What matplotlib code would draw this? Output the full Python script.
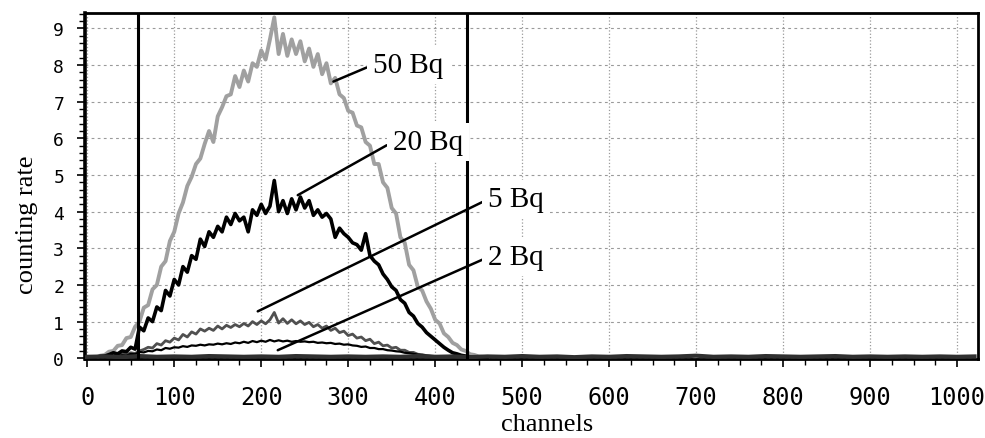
import numpy as np
import matplotlib
matplotlib.use('Agg')
import matplotlib.pyplot as plt
import matplotlib.ticker as mtick

# channel grid of the read-off values (every 5 channels up to 460)
channels = np.arange(0, 461, 5)

bq50 = [0.00, 0.03, 0.02, 0.07, 0.09, 0.18, 0.20, 0.34, 0.36, 0.55,
        0.58, 0.86, 1.00, 1.38, 1.45, 1.88, 2.00, 2.50, 2.65, 3.20,
        3.45, 3.95, 4.25, 4.70, 4.95, 5.30, 5.45, 5.85, 6.20, 5.90,
        6.60, 6.85, 7.15, 7.20, 7.70, 7.40, 7.85, 7.55, 8.05, 7.95,
        8.40, 8.15, 8.70, 9.30, 8.30, 8.85, 8.25, 8.70, 8.30, 8.65,
        8.10, 8.45, 7.95, 8.30, 7.75, 8.05, 7.50, 7.65, 7.20, 7.10,
        6.75, 6.70, 6.35, 6.30, 5.90, 5.80, 5.30, 5.30, 4.80, 4.65,
        4.10, 3.95, 3.30, 3.15, 2.55, 2.40, 1.95, 1.85, 1.55, 1.35,
        1.05, 0.95, 0.68, 0.58, 0.42, 0.36, 0.24, 0.20, 0.11, 0.09,
        0.05, 0.04, 0.03]

bq20 = [0.00, 0.02, 0.03, 0.05, 0.06, 0.10, 0.15, 0.12, 0.20, 0.18,
        0.30, 0.25, 0.85, 0.75, 1.10, 1.00, 1.40, 1.30, 1.85, 1.70,
        2.15, 2.00, 2.50, 2.35, 2.80, 2.70, 3.25, 3.05, 3.45, 3.30,
        3.60, 3.45, 3.85, 3.65, 3.95, 3.75, 3.85, 3.45, 4.05, 3.90,
        4.20, 3.95, 4.15, 4.85, 4.00, 4.30, 3.95, 4.35, 4.05, 4.40,
        4.10, 4.30, 3.90, 4.05, 3.85, 3.95, 3.80, 3.30, 3.55, 3.40,
        3.30, 3.15, 3.10, 2.95, 3.40, 2.80, 2.65, 2.55, 2.30, 2.15,
        1.95, 1.85, 1.60, 1.50, 1.25, 1.15, 0.95, 0.85, 0.70, 0.60,
        0.50, 0.40, 0.30, 0.22, 0.15, 0.12, 0.08, 0.06, 0.04, 0.03,
        0.02, 0.02, 0.02]

bq5 = [0.02, 0.04, 0.03, 0.06, 0.05, 0.08, 0.07, 0.10, 0.12, 0.10,
       0.15, 0.13, 0.20, 0.24, 0.30, 0.28, 0.40, 0.36, 0.48, 0.44,
       0.55, 0.50, 0.65, 0.58, 0.72, 0.66, 0.80, 0.74, 0.82, 0.76,
       0.88, 0.80, 0.90, 0.84, 0.92, 0.86, 0.95, 0.88, 1.00, 0.92,
       1.02, 0.94, 1.05, 1.25, 0.96, 1.08, 0.95, 1.05, 0.94, 1.02,
       0.92, 0.98, 0.86, 0.92, 0.82, 0.88, 0.76, 0.82, 0.70, 0.74,
       0.62, 0.66, 0.55, 0.58, 0.48, 0.52, 0.40, 0.44, 0.34, 0.36,
       0.28, 0.30, 0.22, 0.22, 0.16, 0.16, 0.11, 0.10, 0.07, 0.06,
       0.05, 0.04, 0.03, 0.03, 0.02, 0.02, 0.02, 0.02, 0.02, 0.02,
       0.02, 0.02, 0.02]

bq2 = [0.02, 0.02, 0.03, 0.03, 0.04, 0.05, 0.05, 0.06, 0.08, 0.07,
       0.12, 0.11, 0.17, 0.16, 0.20, 0.19, 0.24, 0.22, 0.28, 0.26,
       0.30, 0.29, 0.33, 0.31, 0.35, 0.34, 0.37, 0.35, 0.38, 0.37,
       0.40, 0.38, 0.41, 0.39, 0.43, 0.41, 0.45, 0.42, 0.47, 0.44,
       0.48, 0.45, 0.50, 0.46, 0.49, 0.46, 0.48, 0.45, 0.47, 0.45,
       0.46, 0.44, 0.45, 0.42, 0.43, 0.41, 0.42, 0.39, 0.40, 0.37,
       0.38, 0.35, 0.34, 0.31, 0.32, 0.28, 0.28, 0.25, 0.25, 0.22,
       0.21, 0.19, 0.18, 0.15, 0.14, 0.12, 0.10, 0.08, 0.07, 0.06,
       0.05, 0.04, 0.03, 0.03, 0.02, 0.02, 0.02, 0.02, 0.02, 0.02,
       0.02, 0.02, 0.02]

# background over the whole spectrum, every 20 channels
bg_channels = np.arange(0, 1021, 20)
background = [0.04, 0.05, 0.03, 0.06, 0.04, 0.05, 0.04, 0.06, 0.05, 0.04,
              0.05, 0.04, 0.06, 0.05, 0.04, 0.05, 0.04, 0.05, 0.04, 0.06,
              0.04, 0.05, 0.03, 0.05, 0.04, 0.06, 0.04, 0.05, 0.03, 0.05,
              0.04, 0.06, 0.05, 0.04, 0.05, 0.07, 0.04, 0.05, 0.04, 0.06,
              0.05, 0.04, 0.05, 0.06, 0.04, 0.05, 0.04, 0.05, 0.04, 0.05,
              0.04, 0.05]

window = [58, 436]

# labels: text, point on curve, text position (left, baseline)
labels = ['50 Bq', '20 Bq', '5 Bq', '2 Bq']
label_xy = [(283, 7.55), (242, 4.45), (196, 1.28), (219, 0.22)]
label_txt = [(328, 7.81), (351, 5.71), (461, 4.15), (461, 2.57)]

fig = plt.figure(figsize=(9.85, 4.39), dpi=100)
ax = fig.add_axes([85 / 985, 1 - 360 / 439, 893 / 985, 346 / 439])

ax.plot(channels, bq50, color='#a0a0a0', linewidth=2.8, zorder=3)
ax.plot(channels, bq5, color='#505050', linewidth=2.0, zorder=4)
ax.plot(channels, bq2, color='black', linewidth=1.6, zorder=5)
ax.plot(channels, bq20, color='black', linewidth=2.6, zorder=6)
ax.plot(bg_channels, background, color='#303030', linewidth=3, zorder=6)

for w in window:
    ax.axvline(w, color='black', linewidth=2.2, zorder=7)

for txt, xy, xyt in zip(labels, label_xy, label_txt):
    ax.annotate(txt, xy=xy, xytext=xyt, fontsize=21, family='Liberation Serif',
                ha='left', va='baseline', zorder=9,
                bbox=dict(boxstyle='square,pad=0.2', facecolor='white', edgecolor='none'),
                arrowprops=dict(arrowstyle='-', color='black', lw=1.8,
                                shrinkA=0, shrinkB=0, relpos=(0, 0.5)))

ax.set_xlim(-2.6, 1024)
ax.set_ylim(-0.02, 9.42)

ax.xaxis.set_major_locator(mtick.MultipleLocator(100))
ax.xaxis.set_minor_locator(mtick.MultipleLocator(25))
ax.yaxis.set_major_locator(mtick.MultipleLocator(1))
ax.yaxis.set_minor_locator(mtick.MultipleLocator(0.2))

ax.xaxis.grid(True, color='#9a9a9a', linestyle=':', linewidth=0.9)
ax.yaxis.grid(True, color='#9a9a9a', linestyle=(0, (2.5, 3)), linewidth=0.8)
ax.set_axisbelow(True)

ax.tick_params(axis='both', which='major', direction='out', length=6, width=1.2)
ax.tick_params(axis='both', which='minor', direction='out', length=4, width=1.0)
ax.tick_params(axis='x', which='major', labelsize=17, pad=13)
ax.tick_params(axis='y', which='major', labelsize=13, pad=9)
for lab in ax.get_xticklabels() + ax.get_yticklabels():
    lab.set_family('DejaVu Sans Mono')

for side in ['left', 'top', 'right', 'bottom']:
    ax.spines[side].set_linewidth(2)
ax.spines['left'].set_linewidth(2.6)

fig.text(547 / 985, 1 - 425 / 439, 'channels', fontsize=19, family='Liberation Serif',
         ha='center', va='center')
fig.text(27 / 985, 1 - 225 / 439, 'counting rate', fontsize=19, family='Liberation Serif',
         ha='center', va='center', rotation=90)

fig.savefig('out.png', dpi=100)
